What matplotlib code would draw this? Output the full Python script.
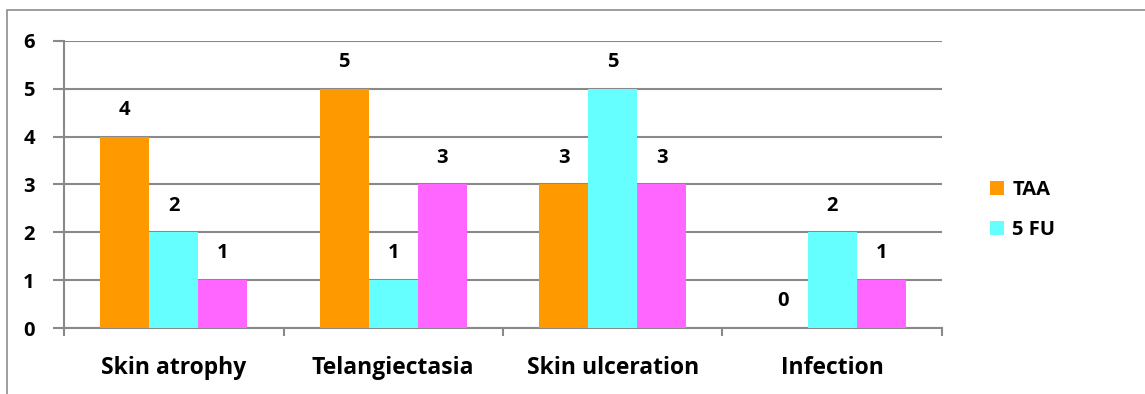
import matplotlib
matplotlib.use('Agg')
import matplotlib.pyplot as plt
import numpy as np
from matplotlib.patches import Rectangle

categories = ["Skin atrophy", "Telangiectasia", "Skin ulceration", "Infection"]
taa = [4, 5, 3, 0]
fu = [2, 1, 5, 2]
third = [1, 3, 3, 1]

colors = ["#FF9900", "#66FFFF", "#FF66FF"]
gridcolor = "#898989"
plt.rcParams['font.family'] = ['Open Sans', 'DejaVu Sans']

fig = plt.figure(figsize=(11.45, 3.94), dpi=100)
ax = fig.add_axes([64/1145, 66/394, 878/1145, 287/394])

# outer chart frame (left and top only visible)
fig.patches.append(Rectangle((7/1145, -0.1), 1.2, (384/394) + 0.1, transform=fig.transFigure,
                             fill=False, edgecolor="#8c8c8c", linewidth=1.2))

x = np.arange(len(categories))
w = 0.223
series = [(taa, "TAA"), (fu, "5 FU"), (third, None)]
for i, (vals, name) in enumerate(series):
    pos = x + (i - 1) * w
    ax.bar(pos, vals, w, color=colors[i], label=name if name else "_nolegend_", zorder=3)
    for p, v in zip(pos, vals):
        ax.annotate(str(v), (p, v), xytext=(0, 12), textcoords='offset points',
                    ha='center', va='bottom', fontsize=14.5, fontweight='bold')

ax.set_xlim(-0.5, 3.5)
ax.set_ylim(0, 6)
ax.set_yticks(range(7))
ax.set_xticks(x)
ax.set_xticklabels(categories, fontsize=16.5, fontweight='bold')
ax.set_xticks(np.arange(-0.5, 4, 1), minor=True)
ax.tick_params(axis='x', which='major', length=0, pad=20)
ax.tick_params(axis='x', which='minor', length=6, color=gridcolor, width=1.5)
ax.tick_params(axis='y', length=8, color=gridcolor, width=1.5, labelsize=14.5, pad=13)
for lab in ax.get_yticklabels():
    lab.set_fontweight('bold')

ax.yaxis.grid(True, color=gridcolor, linewidth=1.5, zorder=0)
ax.set_axisbelow(True)
for s in ['top', 'right']:
    ax.spines[s].set_visible(False)
for s in ['left', 'bottom']:
    ax.spines[s].set_color(gridcolor)
    ax.spines[s].set_linewidth(1.5)

leg = fig.legend(loc='upper left', bbox_to_anchor=(972/1145, 1 - 162/394), frameon=False,
                 prop={'size': 14.5, 'weight': 'bold'}, handlelength=0.7, handleheight=0.7,
                 handletextpad=0.4, labelspacing=1.0)

plt.savefig('out.png', dpi=100)
